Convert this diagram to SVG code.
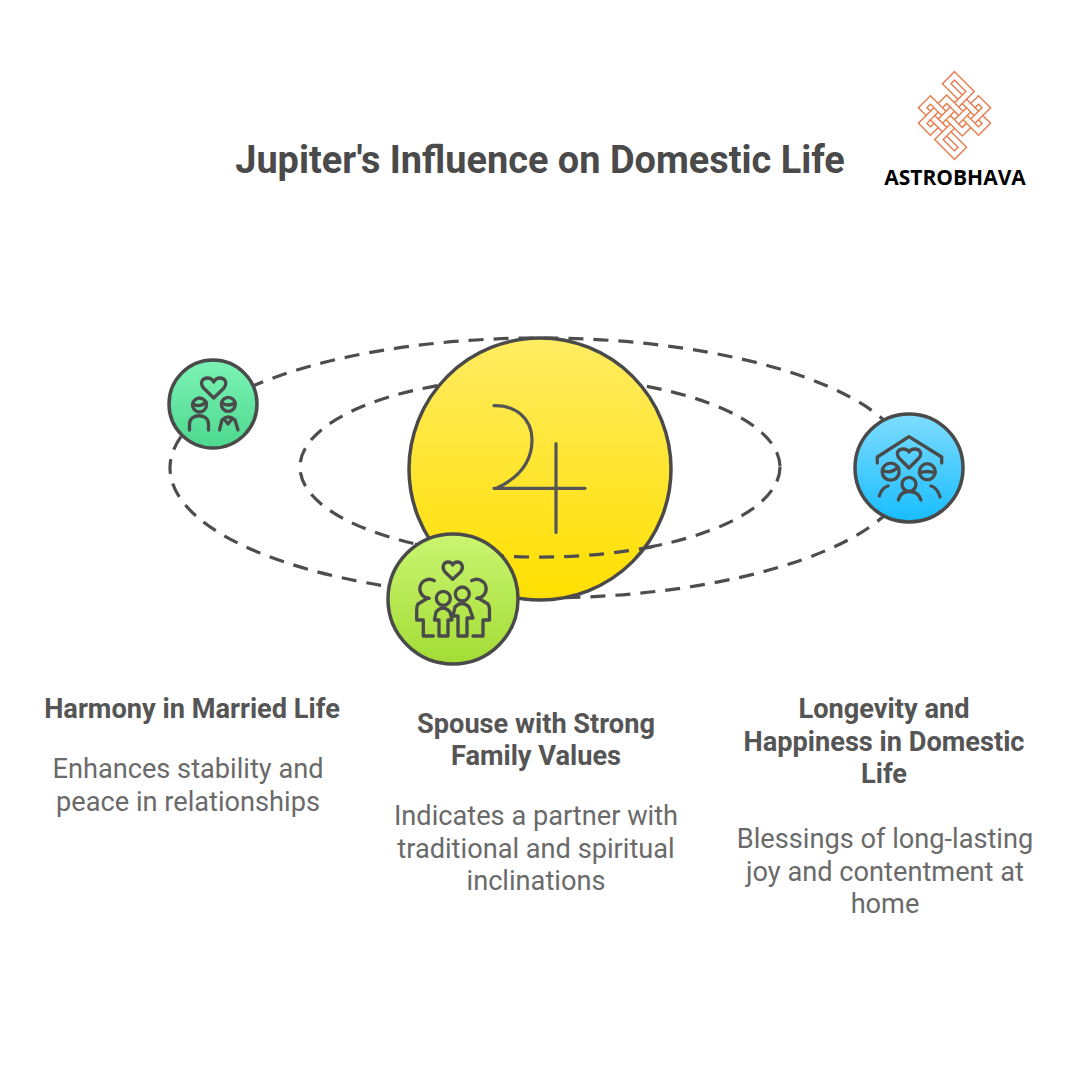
<svg xmlns="http://www.w3.org/2000/svg" width="1080" height="1080" viewBox="0 0 1080 1080">
<style>
text{font-family:Roboto,"Liberation Sans",sans-serif;text-anchor:middle}
.title{font-size:37.9px;font-weight:700;fill:#4a4a4a}
.head{font-size:27.2px;font-weight:700;fill:#555}
.body{font-size:27.200px;fill:#6a6a6a}
.brand{font-family:"Open Sans","Liberation Sans",sans-serif;font-size:21px;font-weight:700;fill:#000}
.orbit{fill:none;stroke:#4d4d4d;stroke-width:3.2;stroke-dasharray:15 10}
.rim{stroke:#4a4a4a;stroke-width:3.5}
.icon{fill:none;stroke:#4a4a4a;stroke-width:3.3;stroke-linecap:round;stroke-linejoin:round}
.ko{fill:none;stroke:#e57f52}
.ki{fill:none;stroke:#fff}
.kb{stroke-width:7.5;stroke-linejoin:miter}
.kw{stroke-width:4.6;stroke-linejoin:miter}
</style>
<defs>
<linearGradient id="gSun" x1="0" y1="0" x2="0" y2="1"><stop offset="0" stop-color="#ffec62"/><stop offset="1" stop-color="#ffdf00"/></linearGradient>
<linearGradient id="gGreen" x1="0" y1="0" x2="0" y2="1"><stop offset="0" stop-color="#7df3b6"/><stop offset="1" stop-color="#4cd88e"/></linearGradient>
<linearGradient id="gBlue" x1="0" y1="0" x2="0" y2="1"><stop offset="0" stop-color="#7fdcff"/><stop offset="1" stop-color="#18bdff"/></linearGradient>
<linearGradient id="gLime" x1="0" y1="0" x2="0" y2="1"><stop offset="0" stop-color="#caf571"/><stop offset="1" stop-color="#a3dc35"/></linearGradient>
</defs>
<rect width="1080" height="1080" fill="#fff"/>
<text class="title" x="540" y="173">Jupiter's Influence on Domestic Life</text>
<g id="logo">
<g transform="translate(954.500 115.500) rotate(45)">
<path class="ko kb" d="M-28 -28H-6V28H-17V-6H28V-17H-28Z M28 28H6V-28H17V6H-28V17H28Z"/>
<path class="ki kw" d="M-28 -28H-6V28H-17V-6H28V-17H-28Z M28 28H6V-28H17V6H-28V17H28Z"/>
<path class="ko kb" d="M-21 6h8M-10 -6h8M-10 17h8M2 -17h8M2 6h8M13 -6h8"/>
<path class="ki kw" d="M-21 6h8M-10 -6h8M-10 17h8M2 -17h8M2 6h8M13 -6h8"/>
<path class="ko kb" d="M-17 13v8M-6 -21v8M-6 2v8M6 -10v8M6 13v8M17 -21v8"/>
<path class="ki kw" d="M-17 13v8M-6 -21v8M-6 2v8M6 -10v8M6 13v8M17 -21v8"/>
</g>
<text class="brand" x="955" y="185">ASTROBHAVA</text>
</g>
<g id="connectors">
<ellipse class="orbit" cx="540" cy="468" rx="370" ry="130"/>
<ellipse class="orbit" cx="540" cy="467" rx="240" ry="90"/>
</g>
<g id="jupiter">
<circle class="rim" cx="540" cy="469" r="131" fill="url(#gSun)"/>
<path d="M494 405.700C515 405 532 418 532 440C532 462 518 478 497 488M494 488.300H585M556 443.500V532.500" fill="none" stroke="#555" stroke-width="3.2" stroke-linecap="round"/>
<path class="orbit" d="M415 544A240 90 0 0 0 660 545"/>
</g>
<g id="node-harmony">
<circle class="rim" cx="213" cy="404" r="44" fill="url(#gGreen)"/>
<path class="icon" d="M213.700 398L203.500 388C199 382 203 378 207.500 378C210.500 378 212.500 379.500 213.700 382C215 379.500 217 378 220 378C224.500 378 228 382 224 388Z"/>
<circle class="icon" cx="199.500" cy="405" r="7"/><path class="icon" d="M193 404Q200 408 206 402"/>
<path class="icon" d="M189.500 430V424C189.500 413 208.500 413 208.500 424V430"/>
<circle class="icon" cx="228.300" cy="404.300" r="7"/><path class="icon" d="M222 403Q228 407 235 403"/>
<path class="icon" d="M219.500 430L222 420Q228 414 235 420L238 430M224 419L228 424L232 419"/>
</g>
<g id="node-longevity">
<circle class="rim" cx="909" cy="468" r="54" fill="url(#gBlue)"/>
<path class="icon" d="M877.300 463V457L909 436.700L941.700 457V463"/>
<path class="icon" d="M909 468L899 458C895 452.500 899 449 903 449C905.500 449 908 450 909 452C910 450 912.500 449 915 449C919 449 923 452.500 919 458Z"/>
<circle class="icon" cx="890.700" cy="471.700" r="8.500"/><path class="icon" d="M882.500 470Q890 475 898 467"/>
<circle class="icon" cx="927.300" cy="471.700" r="8"/><path class="icon" d="M919.500 473Q927 470 935 473"/>
<circle class="icon" cx="909" cy="484.300" r="7"/>
<path class="icon" d="M879.300 496C881 490 884 487 888 486M940 497C938 490 935 487 931 486M898.300 500C900 493 905 491.500 909 491.500C913 491.500 919 493 921 500"/>
</g>
<g id="node-spouse">
<circle class="rim" cx="453" cy="599" r="65" fill="url(#gLime)"/>
<path class="icon" d="M452.700 579.300L445 572C441 567 444 562 448 562C450 562 452 563 452.700 565C453.500 563 455.500 562 457.500 562C461.500 562 464.500 567 460.500 572Z"/>
<path class="icon" d="M434.300 580.700A9.500 9.500 0 1 0 429.300 598.300M471.700 580.700A9.500 9.500 0 1 1 476.700 598.300"/>
<circle class="icon" cx="443.300" cy="598.300" r="7"/><circle class="icon" cx="462.300" cy="594" r="7"/>
<path class="icon" d="M428 598L418 604Q416.700 606 416.700 610V620H423.300V636H433.300M478 598L488 604Q489.500 606 489.500 610V620H483V636H473"/>
<path class="icon" d="M434.500 620L436 612Q443 604 450 612L452 620H448V636H439V620Z"/>
<path class="icon" d="M453 616L455 607Q462 600 469 607L473 618H467V636H458V616Z"/>
</g>
<g id="label-harmony">
<text class="head" x="192" y="718">Harmony in Married Life</text>
<text class="body" x="188" y="778">Enhances stability and</text>
<text class="body" x="188" y="811">peace in relationships</text>
</g>
<g id="label-spouse">
<text class="head" x="536" y="733">Spouse with Strong</text>
<text class="head" x="536" y="765">Family Values</text>
<text class="body" x="536" y="825">Indicates a partner with</text>
<text class="body" x="536" y="858">traditional and spiritual</text>
<text class="body" x="536" y="890">inclinations</text>
</g>
<g id="label-longevity">
<text class="head" x="884" y="718">Longevity and</text>
<text class="head" x="884" y="751">Happiness in Domestic</text>
<text class="head" x="884" y="783">Life</text>
<text class="body" x="885" y="848">Blessings of long-lasting</text>
<text class="body" x="885" y="881">joy and contentment at</text>
<text class="body" x="885" y="913">home</text>
</g>
</svg>
